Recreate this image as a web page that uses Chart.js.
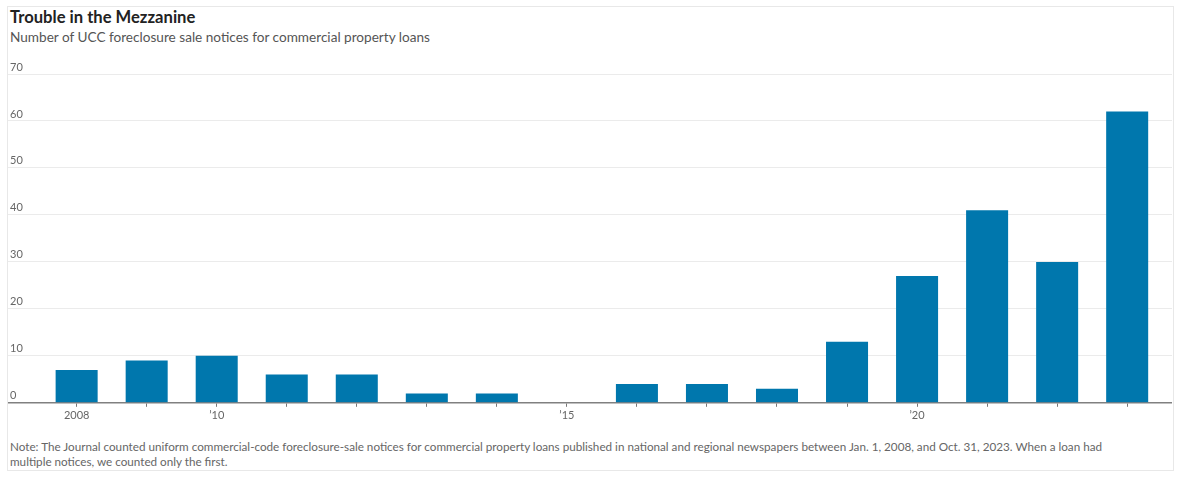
<!DOCTYPE html>
<html lang="en">
<head>
  <meta charset="UTF-8" />
  <title>Trouble in the Mezzanine</title>
  <script src="https://cdn.jsdelivr.net/npm/chart.js"></script>
  <style>
    html, body {
      margin: 0;
      padding: 0;
      background: #fff;
      width: 1200px;
      height: 488px;
      overflow: hidden;
      font-family: Lato, sans-serif;
    }
    .frame {
      position: absolute;
      left: 7px;
      top: 6px;
      width: 1165px;
      height: 463px;
      border: 1px solid #e8e8e8;
    }
    .title {
      position: absolute;
      left: 10px;
      top: 7px;
      font-size: 16.6px;
      font-weight: bold;
      color: #222;
    }
    .subtitle {
      position: absolute;
      left: 10px;
      top: 29px;
      font-size: 13.6px;
      color: #555;
    }
    .note {
      position: absolute;
      left: 10px;
      top: 439px;
      font-size: 11.7px;
      line-height: 15px;
      color: #666;
    }
    .chart-box {
      position: absolute;
      left: 8px;
      top: 56px;
      width: 1164px;
      height: 368px;
    }
  </style>
</head>
<body>
  <div class="frame"></div>
  <div class="title">Trouble in the Mezzanine</div>
  <div class="subtitle">Number of UCC foreclosure sale notices for commercial property loans</div>
  <div class="chart-box"><canvas id="chart"></canvas></div>
  <div class="note">Note: The Journal counted uniform commercial-code foreclosure-sale notices for commercial property loans published in national and regional newspapers between Jan. 1, 2008, and Oct. 31, 2023. When a loan had<br>multiple notices, we counted only the first.</div>

  <script>
    const years = [2008, 2009, 2010, 2011, 2012, 2013, 2014, 2015, 2016, 2017, 2018, 2019, 2020, 2021, 2022, 2023];
    const notices = [7, 9, 10, 6, 6, 2, 2, 0, 4, 4, 3, 13, 27, 41, 30, 62];
    const yearLabels = { 2008: "2008", 2010: "\u201910", 2015: "\u201915", 2020: "\u201920" };
    const yTicks = [0, 10, 20, 30, 40, 50, 60, 70];

    new Chart(document.getElementById("chart"), {
      type: "bar",
      data: {
        datasets: [{
          data: years.map((y, i) => ({ x: y, y: notices[i] })),
          backgroundColor: "#0077ad",
          categoryPercentage: 1,
          barPercentage: 0.6
        }]
      },
      options: {
        responsive: true,
        maintainAspectRatio: false,
        animation: false,
        layout: { padding: { top: 18, left: 0, right: 0, bottom: 0 } },
        plugins: {
          legend: { display: false },
          tooltip: { enabled: false }
        },
        scales: {
          x: {
            type: "linear",
            min: 2007.02,
            max: 2023.64,
            offset: false,
            grid: {
              offset: false,
              drawOnChartArea: false,
              drawTicks: true,
              tickLength: 4,
              color: "#777"
            },
            border: { display: true, color: "#808080", width: 1.5 },
            ticks: {
              stepSize: 1,
              includeBounds: false,
              autoSkip: false,
              maxRotation: 0,
              padding: 2,
              color: "#666",
              font: { family: "Lato", size: 11 },
              callback: v => yearLabels[v] || ""
            }
          },
          y: {
            min: yTicks[0],
            max: yTicks[yTicks.length - 1],
            grid: { color: "#ebebeb", drawTicks: false, lineWidth: 1 },
            border: { display: false },
            afterFit: s => { s.width = 0; },
            ticks: {
              stepSize: 10,
              mirror: true,
              padding: 2,
              labelOffset: -7,
              color: "#666",
              font: { family: "Lato", size: 11 }
            }
          }
        }
      }
    });
  </script>
</body>
</html>
